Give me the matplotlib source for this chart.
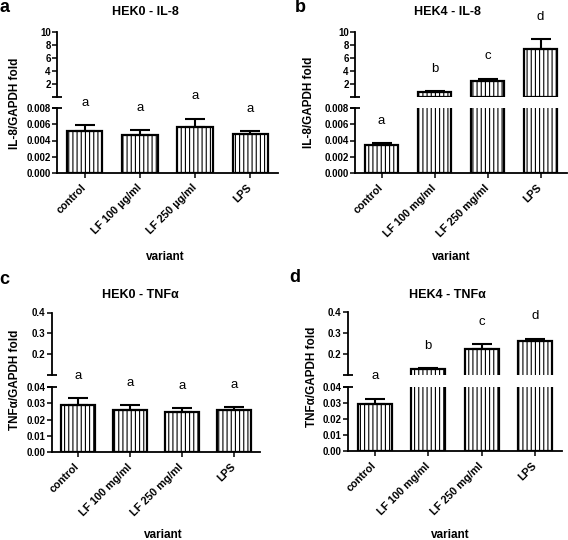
import matplotlib
matplotlib.use("Agg")
import matplotlib.pyplot as plt
from matplotlib.ticker import FormatStrFormatter
import numpy as np

plt.rcParams["font.family"] = ["Liberation Sans", "DejaVu Sans"]
plt.rcParams["hatch.linewidth"] = 0.8

# Data
variants_ug = ["control", "LF 100 µg/ml", "LF 250 µg/ml", "LPS"]
variants_mg = ["control", "LF 100 mg/ml", "LF 250 mg/ml", "LPS"]

hek0_il8 = [0.0052, 0.0047, 0.0057, 0.0048]
hek0_il8_err = [0.0007, 0.0006, 0.0010, 0.0004]
hek4_il8 = [0.0034, 0.87, 2.56, 7.5]
hek4_il8_err = [0.0003, 0.05, 0.30, 1.40]
hek0_tnf = [0.0290, 0.0260, 0.0246, 0.0258]
hek0_tnf_err = [0.0043, 0.0028, 0.0024, 0.0018]
hek4_tnf = [0.0296, 0.127, 0.225, 0.262]
hek4_tnf_err = [0.0031, 0.004, 0.023, 0.011]

letters_a = ["a", "a", "a", "a"]
letters_b = ["a", "b", "c", "d"]

W, H = 568, 540
fig = plt.figure(figsize=(W / 100, H / 100), dpi=100)


def rect(l, t, r, b):
    return [l / W, 1 - b / H, (r - l) / W, (b - t) / H]


def panel(left, right, top_t, top_b, low_t, low_b, vals, errs, labels, letters,
          up_lim, up_ticks, up_fmt, low_lim, low_ticks, low_fmt):
    ax_up = fig.add_axes(rect(left, top_t, right, top_b))
    ax_lo = fig.add_axes(rect(left, low_t, right, low_b))
    x = np.arange(len(vals))
    vals = np.asarray(vals)
    style = dict(width=0.64, color="white", edgecolor="black",
                 linewidth=1.6, hatch="||||")
    ax_lo.bar(x, vals, **style)
    tall = vals > low_lim[1]
    if tall.any():
        ax_up.bar(x[tall], vals[tall], **style)
    for ax in (ax_up, ax_lo):
        ax.set_xlim(-0.5, len(vals) - 0.5)
        ax.spines["top"].set_visible(False)
        ax.spines["right"].set_visible(False)
        ax.spines["left"].set_linewidth(1.3)
        ax.spines["bottom"].set_linewidth(1.3)
        ax.tick_params(axis="y", length=3.5, width=1.1, labelsize=7, pad=1)
    ax_up.set_ylim(*up_lim)
    ax_lo.set_ylim(*low_lim)
    ax_up.set_yticks(up_ticks)
    ax_lo.set_yticks(low_ticks)
    ax_up.yaxis.set_major_formatter(FormatStrFormatter(up_fmt))
    ax_lo.yaxis.set_major_formatter(FormatStrFormatter(low_fmt))
    for ax in (ax_up, ax_lo):
        for t in ax.get_yticklabels():
            t.set_fontweight("bold")
    ax_up.spines["bottom"].set_visible(False)
    ax_up.tick_params(axis="x", bottom=False, labelbottom=False)
    ax_lo.set_xticks(x)
    ax_lo.set_xticklabels(labels, rotation=45, ha="right", va="center",
                          rotation_mode="anchor", fontsize=7.8, fontweight="bold")
    ax_lo.tick_params(axis="x", length=3.5, width=1.1, pad=6)
    # break marks at spine ends
    ax_up.plot([0], [0], marker="_", markersize=7, mew=1.3, color="black",
               transform=ax_up.transAxes, clip_on=False)
    ax_lo.plot([0], [1], marker="_", markersize=7, mew=1.3, color="black",
               transform=ax_lo.transAxes, clip_on=False)
    # error bars (upper only) and letters
    for i, (v, e, let) in enumerate(zip(vals, errs, letters)):
        ax = ax_lo if v + e <= low_lim[1] else ax_up
        ax.errorbar(i, v, yerr=[[0], [e]], fmt="none", ecolor="black",
                    elinewidth=1.5, capsize=7, capthick=1.5, clip_on=False)
        ax.annotate(let, (i, v + e), xytext=(0, 16), textcoords="offset points",
                    ha="center", va="center", fontsize=9.5, annotation_clip=False)
    return ax_up, ax_lo


panel(57, 278, 32.3, 97.3, 108, 173, hek0_il8, hek0_il8_err, variants_ug, letters_a,
      (0, 10), [2, 4, 6, 8, 10], "%d", (0, 0.008),
      [0, 0.002, 0.004, 0.006, 0.008], "%.3f")
panel(355, 567, 32.3, 97.3, 108, 173, hek4_il8, hek4_il8_err, variants_mg, letters_b,
      (0, 10), [2, 4, 6, 8, 10], "%d", (0, 0.008),
      [0, 0.002, 0.004, 0.006, 0.008], "%.3f")
panel(52, 260, 312.5, 375, 387, 452, hek0_tnf, hek0_tnf_err, variants_mg, letters_a,
      (0.1, 0.4), [0.2, 0.3, 0.4], "%.1f", (0, 0.04),
      [0, 0.01, 0.02, 0.03, 0.04], "%.2f")
panel(348, 562, 312, 375, 387, 451, hek4_tnf, hek4_tnf_err, variants_mg, letters_b,
      (0.1, 0.4), [0.2, 0.3, 0.4], "%.1f", (0, 0.04),
      [0, 0.01, 0.02, 0.03, 0.04], "%.2f")

# titles, panel letters, axis labels
for px, py, txt in [(145, 12, "HEK0 - IL-8"), (447, 12, "HEK4 - IL-8"),
                    (140, 295, "HEK0 - TNFα"), (447, 295, "HEK4 - TNFα")]:
    fig.text(px / W, 1 - py / H, txt, ha="center", va="center",
             fontsize=9, fontweight="bold")
for px, py, txt in [(4, 8, "a"), (300, 7, "b"), (4, 279, "c"), (295, 278, "d")]:
    fig.text(px / W, 1 - py / H, txt, ha="center", va="center",
             fontsize=13, fontweight="bold")
for px, py, txt in [(15, 103, "IL-8/GAPDH fold"), (309, 102, "IL-8/GAPDH fold"),
                    (15, 380, "TNFα/GAPDH fold"), (312, 377, "TNFα/GAPDH fold")]:
    fig.text(px / W, 1 - py / H, txt, ha="center", va="center", rotation=90,
             fontsize=8.5, fontweight="bold")
for px, py in [(165, 257), (451, 257), (163, 535), (450, 535)]:
    fig.text(px / W, 1 - py / H, "variant", ha="center", va="center",
             fontsize=8.5, fontweight="bold")

fig.savefig("out.png", dpi=100, facecolor="white")
